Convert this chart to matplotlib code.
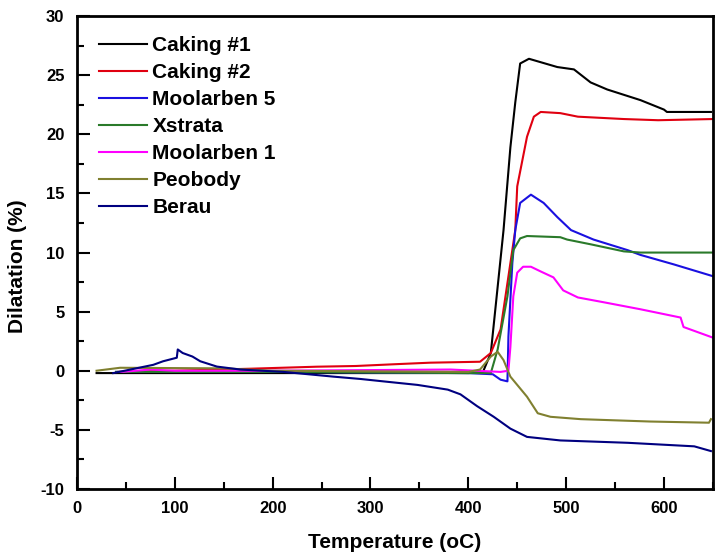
import matplotlib
matplotlib.use('Agg')
import matplotlib.pyplot as plt
from matplotlib.ticker import MultipleLocator

plt.rcParams['font.family'] = ['Liberation Sans', 'DejaVu Sans']
plt.rcParams['font.weight'] = 'bold'
plt.rcParams['axes.unicode_minus'] = False

# 数据 (温度 oC, 膨胀率 %)
t_caking1 = [20, 100, 200, 300, 400, 415, 423, 436, 443, 448, 453, 462, 491, 508, 525, 542, 576, 600, 603, 648]
d_caking1 = [-0.2, -0.2, -0.2, -0.2, -0.2, -0.1, 1.5, 11.9, 18.9, 22.7, 26.0, 26.4, 25.7, 25.5, 24.4, 23.8, 22.9, 22.1, 21.9, 21.9]

t_caking2 = [42, 100, 177, 245, 285, 325, 361, 412, 423, 433, 443, 448, 450, 460, 467, 474, 494, 512, 559, 594, 650]
d_caking2 = [-0.1, 0.0, 0.17, 0.34, 0.4, 0.55, 0.68, 0.76, 1.5, 3.5, 9.1, 11.9, 15.6, 19.8, 21.5, 21.9, 21.8, 21.5, 21.3, 21.2, 21.3]

t_moolarben5 = [40, 200, 400, 425, 433, 440, 441, 445, 448, 453, 464, 477, 491, 505, 528, 563, 576, 610, 650]
d_moolarben5 = [-0.1, -0.1, -0.2, -0.3, -0.76, -0.9, 2.9, 9.1, 11.9, 14.2, 14.9, 14.2, 13.0, 11.9, 11.1, 10.2, 9.8, 9.0, 8.0]

t_xstrata = [40, 200, 400, 423, 430, 440, 446, 453, 460, 494, 501, 525, 559, 576, 650]
d_xstrata = [-0.1, -0.1, -0.2, -0.2, 1.8, 6.3, 10.2, 11.2, 11.4, 11.3, 11.1, 10.7, 10.1, 10.0, 10.0]

t_moolarben1 = [45, 75, 100, 200, 382, 433, 441, 443, 446, 450, 456, 464, 474, 487, 497, 512, 538, 576, 617, 620, 650]
d_moolarben1 = [-0.1, 0.1, 0.0, 0.0, 0.1, -0.1, 0.0, 2.0, 6.3, 8.3, 8.8, 8.8, 8.4, 7.9, 6.8, 6.2, 5.8, 5.2, 4.5, 3.7, 2.8]

t_peobody = [20, 44, 150, 200, 400, 412, 423, 430, 436, 443, 460, 471, 484, 515, 586, 646, 648]
d_peobody = [0.0, 0.25, 0.2, 0.0, -0.1, 0.1, 1.2, 1.6, 0.9, -0.5, -2.2, -3.6, -3.9, -4.1, -4.3, -4.4, -4.1]

t_berau = [37, 78, 88, 102, 103, 108, 118, 126, 143, 167, 211, 262, 290, 313, 348, 379, 392, 409, 426, 443, 460, 494, 563, 631, 648]
d_berau = [-0.2, 0.5, 0.8, 1.1, 1.8, 1.5, 1.2, 0.8, 0.35, 0.1, -0.1, -0.5, -0.7, -0.9, -1.2, -1.6, -2.0, -3.0, -3.9, -4.9, -5.6, -5.9, -6.1, -6.4, -6.8]

fig = plt.figure(figsize=(7.23, 5.6), dpi=100)
ax = fig.add_axes([0.1065, 0.127, 0.8795, 0.844])

ax.plot(t_caking1, d_caking1, color='black', lw=1.5, label='Caking #1')
ax.plot(t_caking2, d_caking2, color='#e00010', lw=1.5, label='Caking #2')
ax.plot(t_moolarben5, d_moolarben5, color='#1a10e0', lw=1.5, label='Moolarben 5')
ax.plot(t_xstrata, d_xstrata, color='#2a7a2a', lw=1.5, label='Xstrata')
ax.plot(t_moolarben1, d_moolarben1, color='#ff00ff', lw=1.5, label='Moolarben 1')
ax.plot(t_peobody, d_peobody, color='#808030', lw=1.5, label='Peobody')
ax.plot(t_berau, d_berau, color='#000080', lw=1.5, label='Berau')

ax.set_xlim(0, 650)
ax.set_ylim(-10, 30)
ax.xaxis.set_major_locator(MultipleLocator(100))
ax.xaxis.set_minor_locator(MultipleLocator(50))
ax.yaxis.set_major_locator(MultipleLocator(5))
ax.yaxis.set_minor_locator(MultipleLocator(2.5))
ax.tick_params(which='both', direction='in', width=1.5, labelsize=12, top=False, right=False)
ax.tick_params(which='major', length=9, pad=9)
ax.tick_params(which='minor', length=5)
for s in ax.spines.values():
    s.set_linewidth(2)

ax.set_xlabel('Temperature (oC)', fontsize=15, fontweight='bold', labelpad=12)
ax.set_ylabel('Dilatation (%)', fontsize=15, fontweight='bold')
ax.yaxis.set_label_coords(-0.079, 0.471)

leg = ax.legend(loc='upper left', frameon=False, fontsize=15, handlelength=2.3,
                handletextpad=0.25, labelspacing=0.38, borderaxespad=0.0,
                bbox_to_anchor=(0.022, 0.975))
for t in leg.get_texts():
    t.set_fontweight('bold')

fig.savefig('out.png', dpi=100)
